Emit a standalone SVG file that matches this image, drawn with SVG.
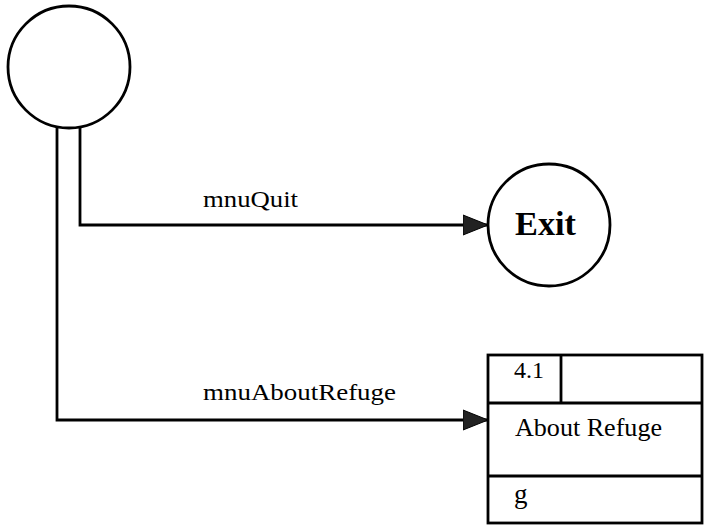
<svg xmlns="http://www.w3.org/2000/svg" width="708" height="529" viewBox="0 0 708 529">
  <defs>
    <marker id="arrow" markerWidth="26" markerHeight="22" refX="25" refY="11" orient="auto" markerUnits="userSpaceOnUse">
      <path d="M0,1 L25,11 L0,21 Z" fill="#222" stroke="#000" stroke-width="1"/>
    </marker>
  </defs>
  <style>
    .line { fill: none; stroke: #000; stroke-width: 2.8; }
    .shape { fill: #fff; stroke: #000; stroke-width: 2.8; }
    .label { font-family: "Liberation Serif", "Times New Roman", serif; font-size: 23px; fill: #000; }
    .title { font-family: "Liberation Serif", "Times New Roman", serif; font-size: 33px; font-weight: bold; fill: #000; }
    .cell { font-family: "Liberation Serif", "Times New Roman", serif; font-size: 26px; fill: #000; }
  </style>

  <g id="connectors">
    <polyline class="line" points="80,127 80,225 488,225" marker-end="url(#arrow)"/>
    <polyline class="line" points="57,127 57,420 488,420" marker-end="url(#arrow)"/>
    <text class="label" x="203" y="207" textLength="95" lengthAdjust="spacingAndGlyphs">mnuQuit</text>
    <text class="label" x="203" y="400" textLength="193" lengthAdjust="spacingAndGlyphs">mnuAboutRefuge</text>
  </g>

  <g id="start">
    <circle class="shape" cx="69" cy="67" r="61"/>
  </g>

  <g id="exit">
    <circle class="shape" cx="549" cy="225" r="61"/>
    <text class="title" x="515" y="235" textLength="61" lengthAdjust="spacingAndGlyphs">Exit</text>
  </g>

  <g id="process-4-1">
    <rect class="shape" x="488" y="355" width="214" height="168"/>
    <line class="line" x1="488" y1="403" x2="702" y2="403"/>
    <line class="line" x1="488" y1="476" x2="702" y2="476"/>
    <line class="line" x1="561" y1="355" x2="561" y2="403"/>
    <text class="cell" x="514" y="378" style="font-size:24px">4.1</text>
    <text class="cell" x="515" y="436" textLength="147" lengthAdjust="spacingAndGlyphs">About Refuge</text>
    <text class="cell" x="514" y="503" style="font-size:27px">g</text>
  </g>
</svg>
